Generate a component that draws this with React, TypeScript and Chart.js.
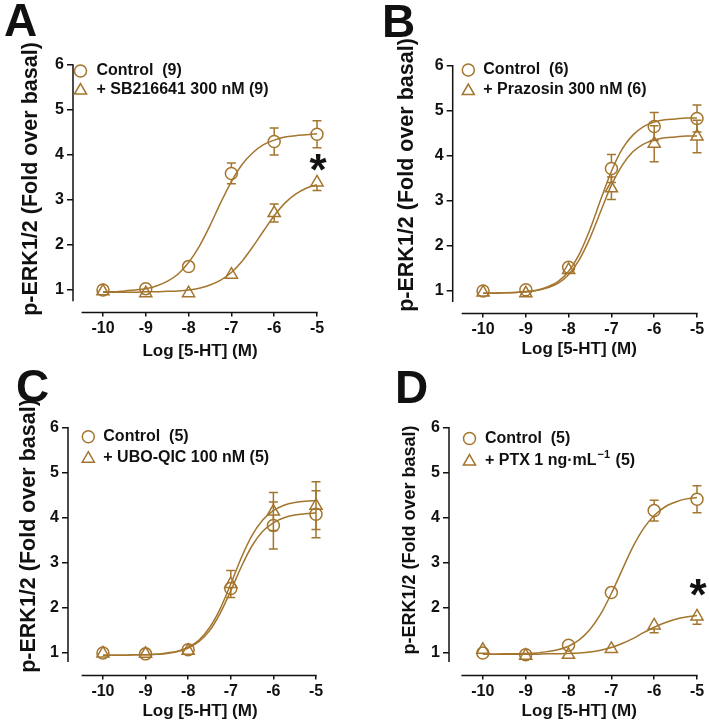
import React, { useEffect, useRef } from "react";
import { Chart, registerables } from "chart.js";

Chart.register(...registerables);

const FONT = "'Liberation Sans', Arial, Helvetica, sans-serif";
const BROWN = "#A3752E";
const INK = "#111111";

// ---- shared axes ----
const doses = [-10, -9, -8, -7, -6, -5];
const curveX = [-10, -9.75, -9.5, -9.25, -9, -8.75, -8.5, -8.25, -8, -7.75, -7.5, -7.25, -7, -6.75, -6.5, -6.25, -6, -5.75, -5.5, -5.25, -5];
const xTickValues = [-10, -9, -8, -7, -6, -5];
const yTickValues = [1, 2, 3, 4, 5, 6];
const xAxisTitle = "Log [5-HT] (M)";
const yAxisTitle = "p-ERK1/2 (Fold over basal)";

// ---- Panel A ----
const aControlLabel = "Control  (9)";
const aTreatLabel = "+ SB216641 300 nM (9)";
const aControlMean = [1.0, 1.03, 1.52, 3.59, 4.3, 4.46];
const aControlErr = [0.03, 0.03, 0.05, 0.23, 0.3, 0.3];
const aTreatMean = [0.97, 0.93, 0.93, 1.34, 2.71, 3.39];
const aTreatErr = [0.03, 0.03, 0.03, 0.06, 0.2, 0.18];
const aControlCurve = [0.96, 0.96, 0.98, 1.0, 1.03, 1.09, 1.19, 1.35, 1.61, 1.97, 2.43, 2.94, 3.41, 3.79, 4.05, 4.23, 4.33, 4.4, 4.43, 4.45, 4.47];
const aTreatCurve = [0.95, 0.95, 0.95, 0.95, 0.96, 0.96, 0.97, 0.98, 1.0, 1.04, 1.11, 1.22, 1.39, 1.64, 1.96, 2.31, 2.65, 2.93, 3.13, 3.26, 3.34];
const aStar = 3.84;

// ---- Panel B ----
const bControlLabel = "Control  (6)";
const bTreatLabel = "+ Prazosin 300 nM (6)";
const bControlMean = [1.0, 1.03, 1.53, 3.72, 4.65, 4.83];
const bControlErr = [0.03, 0.03, 0.05, 0.31, 0.31, 0.3];
const bTreatMean = [0.97, 0.95, 1.47, 3.28, 4.27, 4.43];
const bTreatErr = [0.03, 0.03, 0.08, 0.25, 0.4, 0.36];
const bControlCurve = [0.95, 0.955, 0.96, 0.97, 0.99, 1.02, 1.09, 1.21, 1.44, 1.82, 2.37, 3.03, 3.66, 4.15, 4.46, 4.65, 4.75, 4.8, 4.82, 4.84, 4.84];
const bTreatCurve = [0.95, 0.95, 0.96, 0.97, 0.98, 1.01, 1.07, 1.17, 1.37, 1.7, 2.18, 2.77, 3.35, 3.79, 4.09, 4.26, 4.35, 4.4, 4.42, 4.44, 4.44];

// ---- Panel C ----
const cControlLabel = "Control  (5)";
const cTreatLabel = "+ UBO-QIC 100 nM (5)";
const cControlMean = [1.0, 0.98, 1.07, 2.43, 3.83, 4.08];
const cControlErr = [0.03, 0.03, 0.05, 0.13, 0.52, 0.52];
const cTreatMean = [0.99, 0.98, 1.05, 2.53, 4.14, 4.27];
const cTreatErr = [0.03, 0.03, 0.05, 0.3, 0.42, 0.53];
const cControlCurve = [0.95, 0.95, 0.95, 0.96, 0.96, 0.97, 0.99, 1.03, 1.11, 1.25, 1.49, 1.88, 2.38, 2.92, 3.38, 3.7, 3.89, 4.0, 4.06, 4.09, 4.11];
const cTreatCurve = [0.95, 0.95, 0.95, 0.96, 0.96, 0.97, 1.0, 1.04, 1.13, 1.28, 1.56, 1.98, 2.53, 3.12, 3.61, 3.95, 4.16, 4.28, 4.34, 4.37, 4.38];

// ---- Panel D ----
const dControlLabel = "Control  (5)";
const dTreatLabelParts = [
  { text: "+ PTX 1 ng\u00B7mL", sup: false },
  { text: "\u22121", sup: true },
  { text: " (5)", sup: false },
];
const dControlMean = [1.0, 0.96, 1.17, 2.34, 4.16, 4.41];
const dControlErr = [0.05, 0.06, 0.05, 0.12, 0.23, 0.3];
const dTreatMean = [1.07, 0.94, 0.96, 1.09, 1.61, 1.81];
const dTreatErr = [0.05, 0.1, 0.05, 0.05, 0.16, 0.17];
const dControlCurve = [0.97, 0.97, 0.98, 0.98, 0.99, 1.0, 1.03, 1.07, 1.15, 1.29, 1.52, 1.86, 2.32, 2.84, 3.35, 3.76, 4.05, 4.24, 4.35, 4.42, 4.45];
const dTreatCurve = [0.97, 0.97, 0.97, 0.97, 0.97, 0.97, 0.98, 0.98, 0.99, 1.0, 1.02, 1.06, 1.12, 1.21, 1.32, 1.45, 1.57, 1.67, 1.75, 1.8, 1.83];
const dStar = 2.45;

type LabelPart = { text: string; sup: boolean };

type Panel = {
  letter: string;
  controlLabel: string;
  treatLabel: LabelPart[];
  controlMean: number[];
  controlErr: number[];
  treatMean: number[];
  treatErr: number[];
  controlCurve: number[];
  treatCurve: number[];
  star: number | null;
  box: { left: number; top: number; width: number; height: number };
  area: { W: number; T: number; R: number; H: number };
  xMin: number;
  yLow: number;
  legend: { mx: number; my1: number; my2: number; tx: number };
  letterPos: { x: number; y: number };
  yTitle: { x: number; y: number; size: number };
  xTitle: { x: number; y: number };
};

const panels: Panel[] = [
  {
    letter: "A",
    controlLabel: aControlLabel,
    treatLabel: [{ text: aTreatLabel, sup: false }],
    controlMean: aControlMean, controlErr: aControlErr,
    treatMean: aTreatMean, treatErr: aTreatErr,
    controlCurve: aControlCurve, treatCurve: aTreatCurve,
    star: aStar,
    box: { left: 0, top: 0, width: 355, height: 360 },
    area: { W: 73, T: 65, R: 38, H: 47.5 },
    xMin: -10.7, yLow: 0.75,
    legend: { mx: 80.5, my1: 71, my2: 89.5, tx: 96.5 },
    letterPos: { x: 4, y: 36 },
    yTitle: { x: 31, y: 179, size: 21.5 },
    xTitle: { x: 200, y: 356 },
  },
  {
    letter: "B",
    controlLabel: bControlLabel,
    treatLabel: [{ text: bTreatLabel, sup: false }],
    controlMean: bControlMean, controlErr: bControlErr,
    treatMean: bTreatMean, treatErr: bTreatErr,
    controlCurve: bControlCurve, treatCurve: bTreatCurve,
    star: null,
    box: { left: 355, top: 0, width: 354, height: 360 },
    area: { W: 97.7, T: 65.7, R: 12, H: 46.4 },
    xMin: -10.71, yLow: 0.76,
    legend: { mx: 113.3, my1: 70, my2: 90, tx: 128.3 },
    letterPos: { x: 27, y: 36.5 },
    yTitle: { x: 51.7, y: 175, size: 21.5 },
    xTitle: { x: 224.2, y: 354 },
  },
  {
    letter: "C",
    controlLabel: cControlLabel,
    treatLabel: [{ text: cTreatLabel, sup: false }],
    controlMean: cControlMean, controlErr: cControlErr,
    treatMean: cTreatMean, treatErr: cTreatErr,
    controlCurve: cControlCurve, treatCurve: cTreatCurve,
    star: null,
    box: { left: 0, top: 360, width: 355, height: 364 },
    area: { W: 68, T: 67.7, R: 39, H: 48.5 },
    xMin: -10.82, yLow: 0.8,
    legend: { mx: 88.3, my1: 76.7, my2: 97.7, tx: 103.3 },
    letterPos: { x: 16, y: 41.5 },
    yTitle: { x: 28.7, y: 176, size: 21.5 },
    xTitle: { x: 200, y: 356 },
  },
  {
    letter: "D",
    controlLabel: dControlLabel,
    treatLabel: dTreatLabelParts,
    controlMean: dControlMean, controlErr: dControlErr,
    treatMean: dTreatMean, treatErr: dTreatErr,
    controlCurve: dControlCurve, treatCurve: dTreatCurve,
    star: dStar,
    box: { left: 355, top: 360, width: 354, height: 364 },
    area: { W: 94, T: 67.7, R: 12, H: 48.5 },
    xMin: -10.79, yLow: 0.8,
    legend: { mx: 114.5, my1: 78.5, my2: 100.5, tx: 130 },
    letterPos: { x: 40, y: 43 },
    yTitle: { x: 55, y: 180, size: 18 },
    xTitle: { x: 224.2, y: 356 },
  },
];

function drawTriangle(ctx: CanvasRenderingContext2D, x: number, y: number, r: number) {
  let rad = 0;
  ctx.beginPath();
  ctx.moveTo(x + Math.sin(rad) * r, y - Math.cos(rad) * r);
  rad += (2 * Math.PI) / 3;
  ctx.lineTo(x + Math.sin(rad) * r, y - Math.cos(rad) * r);
  rad += (2 * Math.PI) / 3;
  ctx.lineTo(x + Math.sin(rad) * r, y - Math.cos(rad) * r);
  ctx.closePath();
  ctx.stroke();
}

function makePlugin(p: Panel) {
  return {
    id: "panel" + p.letter,
    afterDatasetsDraw(chart: any) {
      const ctx: CanvasRenderingContext2D = chart.ctx;
      const xs = chart.scales.x;
      const ys = chart.scales.y;
      const area = chart.chartArea;
      ctx.save();

      // error bars
      ctx.strokeStyle = BROWN;
      ctx.lineWidth = 1.5;
      chart.data.datasets.forEach((ds: any) => {
        if (!ds.errors) return;
        ds.data.forEach((pt: any, i: number) => {
          const e = ds.errors[i];
          const x = xs.getPixelForValue(pt.x);
          const yc = ys.getPixelForValue(pt.y);
          const yt = ys.getPixelForValue(pt.y + e);
          const yb = ys.getPixelForValue(pt.y - e);
          const r = ds.pointRadius;
          const gapT = r;
          const gapB = ds.pointStyle === "triangle" ? r * 0.5 : r;
          const cap = 4.5;
          if (yc - yt > gapT + 1.5) {
            ctx.beginPath();
            ctx.moveTo(x, yc - gapT);
            ctx.lineTo(x, yt);
            ctx.moveTo(x - cap, yt);
            ctx.lineTo(x + cap, yt);
            ctx.stroke();
          }
          if (yb - yc > gapB + 1.5) {
            ctx.beginPath();
            ctx.moveTo(x, yc + gapB);
            ctx.lineTo(x, yb);
            ctx.moveTo(x - cap, yb);
            ctx.lineTo(x + cap, yb);
            ctx.stroke();
          }
        });
      });

      // axis lines
      ctx.strokeStyle = INK;
      ctx.lineWidth = 1.5;
      ctx.beginPath();
      ctx.moveTo(area.left, ys.getPixelForValue(6) - 0.75);
      ctx.lineTo(area.left, ys.getPixelForValue(p.yLow));
      ctx.moveTo(xs.getPixelForValue(-10.5), area.bottom);
      ctx.lineTo(xs.getPixelForValue(-5) + 0.75, area.bottom);
      ctx.stroke();

      // titles
      ctx.fillStyle = INK;
      ctx.font = `bold ${p.yTitle.size}px ${FONT}`;
      ctx.textAlign = "center";
      ctx.textBaseline = "middle";
      ctx.save();
      ctx.translate(p.yTitle.x, p.yTitle.y);
      ctx.rotate(-Math.PI / 2);
      ctx.fillText(yAxisTitle, 0, 0);
      ctx.restore();

      ctx.font = `bold 17px ${FONT}`;
      ctx.textAlign = "center";
      ctx.textBaseline = "alphabetic";
      ctx.fillText(xAxisTitle, p.xTitle.x, p.xTitle.y);

      // panel letter
      ctx.font = `bold 46px ${FONT}`;
      ctx.textAlign = "left";
      ctx.textBaseline = "alphabetic";
      ctx.fillText(p.letter, p.letterPos.x, p.letterPos.y);

      // legend
      ctx.strokeStyle = BROWN;
      ctx.lineWidth = 1.5;
      ctx.beginPath();
      ctx.arc(p.legend.mx, p.legend.my1, 6, 0, Math.PI * 2);
      ctx.stroke();
      drawTriangle(ctx, p.legend.mx, p.legend.my2 + 1, 7);
      ctx.fillStyle = INK;
      ctx.font = `bold 16px ${FONT}`;
      ctx.textAlign = "left";
      ctx.textBaseline = "middle";
      ctx.fillText(p.controlLabel, p.legend.tx, p.legend.my1);
      let tx = p.legend.tx;
      p.treatLabel.forEach((part) => {
        if (part.sup) {
          ctx.font = `bold 11px ${FONT}`;
          ctx.fillText(part.text, tx + 1, p.legend.my2 - 6);
          tx += ctx.measureText(part.text).width + 2;
        } else {
          ctx.font = `bold 16px ${FONT}`;
          ctx.fillText(part.text, tx, p.legend.my2);
          tx += ctx.measureText(part.text).width;
        }
      });

      // significance star
      if (p.star !== null) {
        ctx.font = `bold 44px ${FONT}`;
        ctx.textAlign = "center";
        ctx.textBaseline = "alphabetic";
        const m = ctx.measureText("*");
        const off = (m.actualBoundingBoxAscent - m.actualBoundingBoxDescent) / 2;
        ctx.fillText("*", xs.getPixelForValue(-5) + 1, ys.getPixelForValue(p.star) + off);
      }
      ctx.restore();
    },
  };
}

function makeConfig(p: Panel): any {
  const tickFont = { family: FONT, size: 16, weight: "bold" as const };
  return {
    type: "line",
    data: {
      datasets: [
        {
          data: curveX.map((x, i) => ({ x, y: p.controlCurve[i] })),
          borderColor: BROWN,
          borderWidth: 1.5,
          pointRadius: 0,
          cubicInterpolationMode: "monotone",
          fill: false,
          clip: false,
        },
        {
          data: curveX.map((x, i) => ({ x, y: p.treatCurve[i] })),
          borderColor: BROWN,
          borderWidth: 1.5,
          pointRadius: 0,
          cubicInterpolationMode: "monotone",
          fill: false,
          clip: false,
        },
        {
          data: doses.map((x, i) => ({ x, y: p.controlMean[i] })),
          errors: p.controlErr,
          showLine: false,
          pointStyle: "circle",
          pointRadius: 6,
          pointBorderWidth: 1.5,
          pointBorderColor: BROWN,
          pointBackgroundColor: "rgba(0,0,0,0)",
          borderColor: BROWN,
          clip: false,
        },
        {
          data: doses.map((x, i) => ({ x, y: p.treatMean[i] })),
          errors: p.treatErr,
          showLine: false,
          pointStyle: "triangle",
          pointRadius: 7,
          pointBorderWidth: 1.5,
          pointBorderColor: BROWN,
          pointBackgroundColor: "rgba(0,0,0,0)",
          borderColor: BROWN,
          clip: false,
        },
      ],
    },
    options: {
      animation: false,
      responsive: false,
      devicePixelRatio: 1,
      events: [],
      layout: { padding: { left: 0, top: p.area.T, right: p.area.R, bottom: 0 } },
      plugins: {
        legend: { display: false },
        tooltip: { enabled: false },
        title: { display: false },
      },
      scales: {
        x: {
          type: "linear",
          min: p.xMin,
          max: -5,
          afterBuildTicks: (s: any) => {
            s.ticks = xTickValues.map((v) => ({ value: v }));
          },
          afterFit: (s: any) => {
            s.height = p.area.H;
          },
          ticks: {
            font: tickFont,
            color: INK,
            padding: 2,
            maxRotation: 0,
            autoSkip: false,
            callback: (v: any) => String(v),
          },
          grid: {
            drawOnChartArea: false,
            drawTicks: true,
            tickLength: 4,
            color: INK,
            lineWidth: 1.5,
          },
          border: { display: false },
        },
        y: {
          type: "linear",
          min: 0.5,
          max: 6,
          afterBuildTicks: (s: any) => {
            s.ticks = yTickValues.map((v) => ({ value: v }));
          },
          afterFit: (s: any) => {
            s.width = p.area.W;
          },
          ticks: {
            font: tickFont,
            color: INK,
            padding: 3,
            autoSkip: false,
            callback: (v: any) => String(v),
          },
          grid: {
            drawOnChartArea: false,
            drawTicks: true,
            tickLength: 6,
            color: INK,
            lineWidth: 1.5,
          },
          border: { display: false },
        },
      },
    },
    plugins: [makePlugin(p)],
  };
}

function PanelChart({ p }: { p: Panel }) {
  const ref = useRef<HTMLCanvasElement | null>(null);
  useEffect(() => {
    const canvas = ref.current;
    if (!canvas) return;
    const chart = new Chart(canvas, makeConfig(p));
    return () => chart.destroy();
  }, [p]);
  return (
    <canvas
      ref={ref}
      width={p.box.width}
      height={p.box.height}
      style={{
        position: "absolute",
        left: p.box.left,
        top: p.box.top,
        width: p.box.width,
        height: p.box.height,
      }}
    />
  );
}

export default function App() {
  return (
    <div
      style={{
        position: "absolute",
        left: 0,
        top: 0,
        width: 709,
        height: 724,
        background: "#ffffff",
        overflow: "hidden",
      }}
    >
      {panels.map((p) => (
        <PanelChart key={p.letter} p={p} />
      ))}
    </div>
  );
}
